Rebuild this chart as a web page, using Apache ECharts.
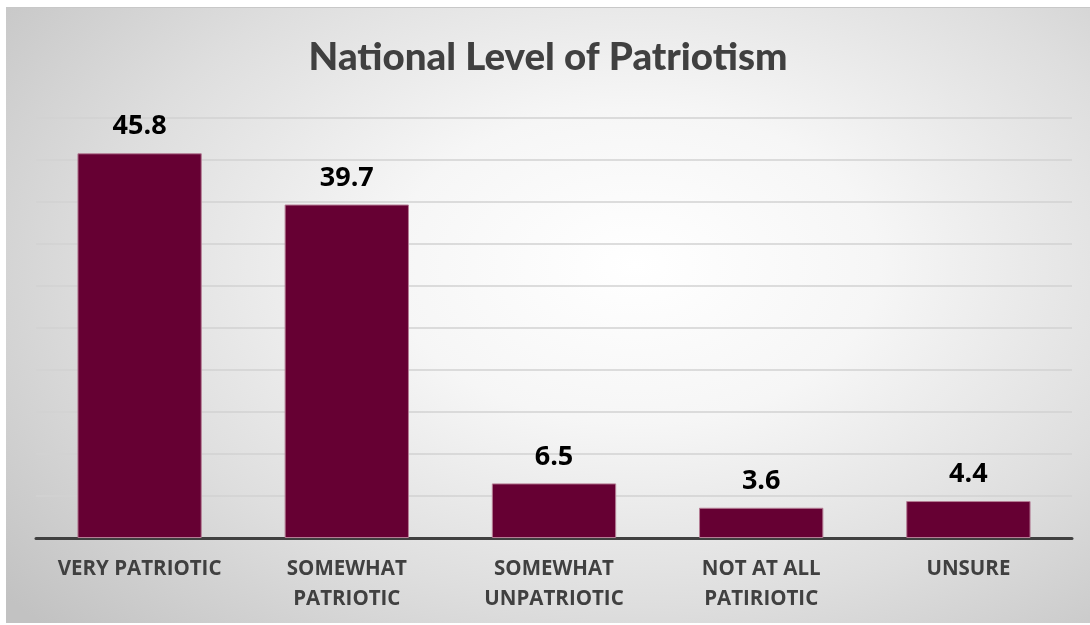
<!DOCTYPE html>
<html>
<head>
<meta charset="utf-8">
<script src="https://cdn.jsdelivr.net/npm/echarts@6/dist/echarts.min.js"></script>
<style>
html,body{margin:0;padding:0;background:#ffffff;width:1090px;height:625px;overflow:hidden;}
#frame{position:absolute;left:6px;top:7px;width:1084px;height:616px;
background:radial-gradient(ellipse 75% 85% at 58% 42%, #ffffff 0%, #f6f6f6 30%, #dedede 65%, #c2c2c2 100%);
box-shadow: inset 0 1px 0 #c8c8c8;}
#chart{width:1084px;height:616px;}
</style>
</head>
<body>
<div id="frame"><div id="chart"></div></div>
<script>
const titleText = 'National Level of Patriotism';
const categories = ['VERY PATRIOTIC', 'SOMEWHAT\nPATRIOTIC', 'SOMEWHAT\nUNPATRIOTIC', 'NOT AT ALL\nPATIRIOTIC', 'UNSURE'];
const values = [45.8, 39.7, 6.5, 3.6, 4.4];
const yMin = 0, yMax = 50, yStep = 5;

const chart = echarts.init(document.getElementById('chart'), null, {renderer: 'canvas'});
chart.setOption({
  backgroundColor: 'transparent',
  animation: false,
  title: {
    text: titleText,
    left: 'center',
    top: 26,
    textStyle: {fontFamily: 'Lato', fontWeight: 900, fontSize: 38.5, color: '#404040'}
  },
  grid: {left: 30, right: 18, top: 111, bottom: 85, containLabel: false},
  xAxis: {
    type: 'category',
    data: categories,
    axisLine: {lineStyle: {color: '#404040', width: 3}},
    axisTick: {show: false},
    axisLabel: {color: '#404040', fontFamily: 'Open Sans', fontWeight: 'bold', fontSize: 20.5, lineHeight: 30, margin: 16, interval: 0}
  },
  yAxis: {
    type: 'value',
    min: yMin, max: yMax, interval: yStep,
    axisLabel: {show: false},
    axisLine: {show: false},
    axisTick: {show: false},
    splitLine: {lineStyle: {color: '#d2d2d2', width: 1.5}}
  },
  series: [{
    type: 'bar',
    data: values,
    barCategoryGap: '40%',
    itemStyle: {color: '#660033', borderColor: '#b57d95', borderWidth: 1},
    label: {show: true, position: 'top', distance: 13, color: '#000000', fontFamily: 'Open Sans', fontWeight: 'bold', fontSize: 27,
      formatter: p => p.value.toFixed(1)}
  }]
});
</script>
</body>
</html>
